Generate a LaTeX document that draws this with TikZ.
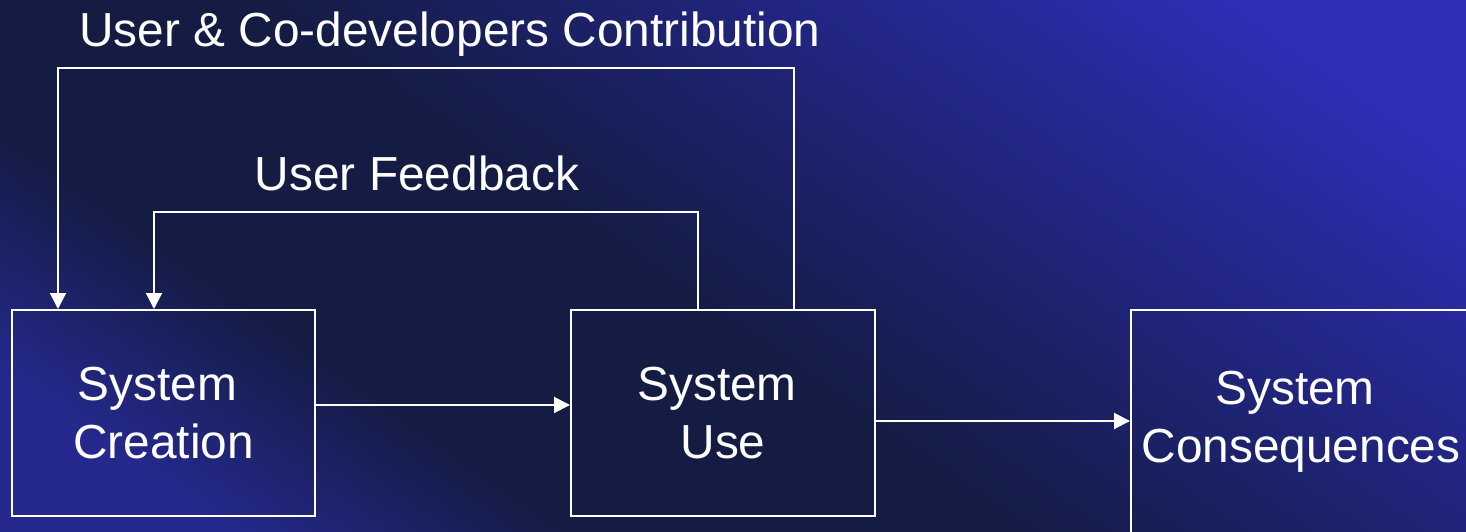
\documentclass[tikz,border=0pt]{standalone}
\usepackage{fontspec}
\setmainfont{Liberation Sans}
\usetikzlibrary{arrows.meta,positioning}
\definecolor{bgblue}{HTML}{2E2EB8}
\definecolor{bgblueb}{HTML}{25298E}
\definecolor{bgnavy}{HTML}{141C44}
\pgfdeclarehorizontalshading{backdrop}{100bp}{color(0bp)=(bgblueb); color(22bp)=(bgblueb); color(33bp)=(bgnavy); color(47bp)=(bgnavy); color(78bp)=(bgblue); color(100bp)=(bgblue)}
\begin{document}
\begin{tikzpicture}
\tikzstyle{arrow} = [white, line width = 1pt, ->, >= {Triangle[length=8pt, width=8pt]}]
\tikzstyle{box} = [rectangle, minimum width = 151.5pt, minimum height = 103pt, align = center, draw = white, line width = 1pt, text = white, font = \fontsize{23.9}{29}\selectfont]
\tikzstyle{caption} = [text = white, anchor = base, inner sep = 0pt, font = \fontsize{23.9}{29}\selectfont]
\useasboundingbox (0,0) rectangle (733pt,265.5pt);
\clip (0,0) rectangle (733pt,265.5pt);
% backdrop
\shade[shading = backdrop, shading angle = 55] (0,0) rectangle (733pt,265.5pt);
\node[box](creation) at (81.75pt,59pt) {System\kern6pt\\Creation};
\node[box, right of = creation, node distance = 279.75pt, minimum width = 152pt](use) {System\kern6pt\\Use};
\node[box, right of = use, node distance = 289pt, yshift = -4.5pt, minimum width = 170pt, minimum height = 112pt](cons) {System\kern6pt\\Consequences};
\node[caption](feedback) at (208.5pt,170.5pt) {User Feedback};
\node[caption](contribution) at (225pt,242pt) {User \& Co-developers Contribution};
\draw[arrow] ([yshift = 4pt]creation.east)--([yshift = 4pt]use.west);
\draw[arrow] ([yshift = -4pt]use.east)--([yshift = -4pt]use.east -| cons.west);
\draw[arrow] ([xshift = 64pt]use.north west)-- ++(0,48.5pt) -| ([xshift = 71.5pt]creation.north west);
\draw[arrow] ([xshift = 112pt]use.north west)-- ++(0,120.5pt) -| ([xshift = 23.5pt]creation.north west);
\end{tikzpicture}
\end{document}
